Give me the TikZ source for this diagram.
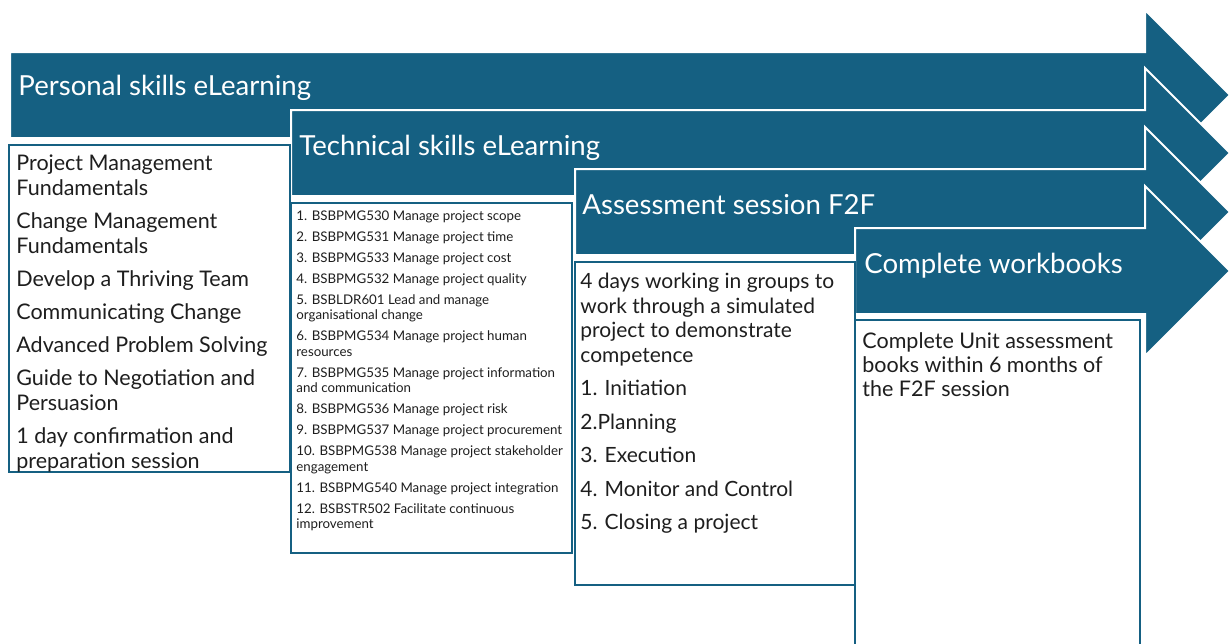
\documentclass[tikz,border=0pt]{standalone}
\usepackage{fontspec}
\setsansfont{Lato}
\definecolor{stageblue}{RGB}{21,96,130}
\definecolor{bodytext}{RGB}{30,30,30}
\tikzset{every picture/.style={/utils/exec={\sffamily}}}
\usetikzlibrary{positioning}

\begin{document}
\begin{tikzpicture}[x=0.5pt, y=-0.5pt,
  stage/.style={fill=stageblue, draw=white, line width=1pt, line join=miter},
  panel/.style={fill=white, draw=stageblue, line width=1pt},
  title/.style={text=white, inner sep=0, font=\fontsize{13.8}{16}\selectfont},
  items/.style={text=bodytext, inner sep=0, align=left}]
  \useasboundingbox (0,0) rectangle (1231,643);

  % four stages, each a wide arrow running out to the right
  \foreach \x/\y [count=\i] in {10/52, 291/110, 575/169, 855/228}
    \filldraw[stage] (\x,\y) coordinate (s\i) -- (1145,\y) -- (1145,\y-42) -- (1230,\y+43)
      -- (1145,\y+128) -- (1145,\y+86) -- (\x,\y+86) -- cycle;

  % white panels under each stage
  \draw[panel] (9,145) coordinate (p1) rectangle (290,472);
  \draw[panel] (291,203) coordinate (p2) rectangle (572,553);
  \draw[panel] (575,262) coordinate (p3) rectangle (855,585);
  \draw[panel] (855,320) coordinate (p4) rectangle (1140,660);

  \node[title, below right=11.5pt and 4pt of s1] (personalhead) {Personal skills eLearning};
  \node[title, below right=12.5pt and 4pt of s2] (technicalhead) {Technical skills eLearning};
  \node[title, below right=12.5pt and 3.5pt of s3] (assesshead) {Assessment session F2F};
  \node[title, below right=12.5pt and 4.5pt of s4] (workbookhead) {Complete workbooks};

  \node[items, font=\fontsize{10.75}{12.5}\selectfont, below right=4.5pt and 3.5pt of p1] (personallist)
    {Project Management\\Fundamentals\\[4pt]
     Change Management\\Fundamentals\\[4pt]
     Develop a Thriving Team\\[4pt]
     Communicating Change\\[4pt]
     Advanced Problem Solving\\[4pt]
     Guide to Negotiation and\\Persuasion\\[4pt]
     1 day confirmation and\\preparation session};

  \node[items, font=\fontsize{6.65}{7.75}\selectfont, below right=3.5pt and 2.5pt of p2] (technicallist)
    {1. BSBPMG530 Manage project scope\\[2.75pt]
     2. BSBPMG531 Manage project time\\[2.75pt]
     3. BSBPMG533 Manage project cost\\[2.75pt]
     4. BSBPMG532 Manage project quality\\[2.75pt]
     5. BSBLDR601 Lead and manage\\organisational change\\[2.75pt]
     6. BSBPMG534 Manage project human\\resources\\[2.75pt]
     7. BSBPMG535 Manage project information\\and communication\\[2.75pt]
     8. BSBPMG536 Manage project risk\\[2.75pt]
     9. BSBPMG537 Manage project procurement\\[2.75pt]
     10. BSBPMG538 Manage project stakeholder\\engagement\\[2.75pt]
     11. BSBPMG540 Manage project integration\\[2.75pt]
     12. BSBSTR502 Facilitate continuous\\improvement};

  \node[items, font=\fontsize{10.5}{12.25}\selectfont, below right=5.5pt and 2.5pt of p3] (assesslist)
    {4 days working in groups to\\work through a simulated\\project to demonstrate\\competence\\[4.5pt]
     1. Initiation\\[4.5pt]
     2.Planning\\[4.5pt]
     3. Execution\\[4.5pt]
     4. Monitor and Control\\[4.5pt]
     5. Closing a project};

  \node[items, font=\fontsize{10.75}{12}\selectfont, below right=6pt and 3.5pt of p4] (workbooklist)
    {Complete Unit assessment\\books within 6 months of\\the F2F session};
\end{tikzpicture}
\end{document}
